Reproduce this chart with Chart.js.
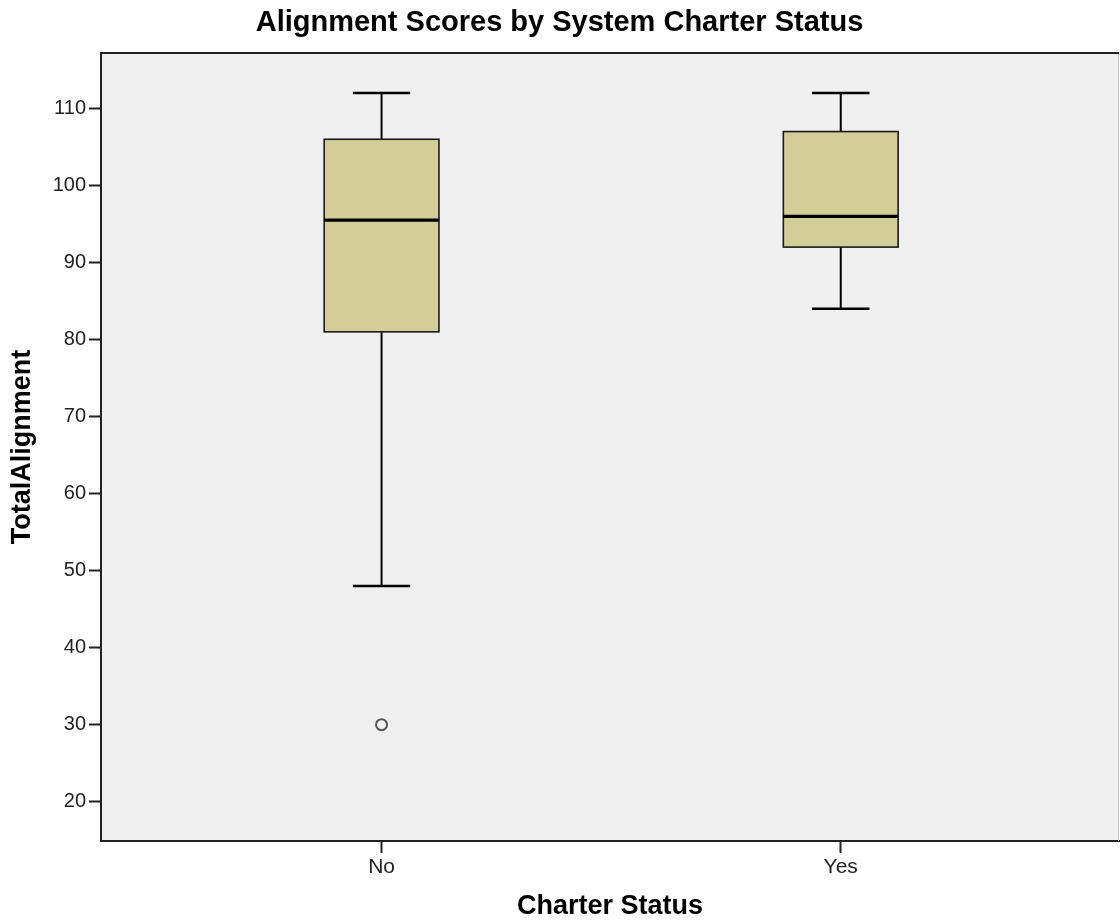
<!DOCTYPE html>
<html>
<head>
<meta charset="utf-8">
<title>Alignment Scores by System Charter Status</title>
<script src="https://cdn.jsdelivr.net/npm/chart.js@4.4.1/dist/chart.umd.min.js"></script>
<style>
  html, body { margin: 0; padding: 0; background: #ffffff; }
  #wrap { width: 1120px; height: 923px; }
</style>
</head>
<body>
<div id="wrap"><canvas id="chart" width="1120" height="923"></canvas></div>
<script>
// Box-plot summary per charter group
const categories   = ['No', 'Yes'];
const whiskerLow   = [48, 84];
const quartile1    = [81, 92];
const medians      = [95.5, 96];
const quartile3    = [106, 107];
const whiskerHigh  = [112, 112];
const outliers     = [[30], []];
const yTickValues  = [20, 30, 40, 50, 60, 70, 80, 90, 100, 110];

const FONT = "'Liberation Sans', Arial, Helvetica, sans-serif";
Chart.defaults.font.family = FONT;
Chart.defaults.color = '#222222';

const BOX_HALF = 0.125;   // half box width, in category units
const CAP_HALF = 0.0625;  // half whisker-cap width

// Plot background and the top / right frame of the plotting area
const frame = {
  id: 'frame',
  beforeDraw(chart) {
    const { ctx, chartArea: a } = chart;
    ctx.save();
    ctx.fillStyle = '#f0f0f0';
    ctx.fillRect(a.left, a.top, a.right - a.left, a.bottom - a.top);
    ctx.restore();
  },
  afterDraw(chart) {
    const { ctx, chartArea: a } = chart;
    ctx.save();
    ctx.strokeStyle = '#c8c8c8';
    ctx.lineWidth = 1;
    ctx.beginPath();
    ctx.moveTo(a.right - 0.5, a.top);
    ctx.lineTo(a.right - 0.5, a.bottom);
    ctx.stroke();
    ctx.strokeStyle = '#222222';
    ctx.lineWidth = 2;
    ctx.beginPath();
    ctx.moveTo(a.left - 1, a.top);
    ctx.lineTo(a.right, a.top);
    ctx.stroke();
    ctx.restore();
  }
};

// Boxes, medians and whiskers positioned through the chart scales
const boxes = {
  id: 'boxes',
  beforeDatasetsDraw(chart) {
    const { ctx, scales: { x, y } } = chart;
    ctx.save();
    categories.forEach((_, i) => {
      const xl = x.getPixelForValue(i - BOX_HALF);
      const xr = x.getPixelForValue(i + BOX_HALF);
      const xc = x.getPixelForValue(i);
      const cl = x.getPixelForValue(i - CAP_HALF);
      const cr = x.getPixelForValue(i + CAP_HALF);
      const yLo = y.getPixelForValue(whiskerLow[i]);
      const yQ1 = y.getPixelForValue(quartile1[i]);
      const yMd = y.getPixelForValue(medians[i]);
      const yQ3 = y.getPixelForValue(quartile3[i]);
      const yHi = y.getPixelForValue(whiskerHigh[i]);

      // whiskers
      ctx.strokeStyle = '#000000';
      ctx.lineWidth = 2;
      ctx.beginPath();
      ctx.moveTo(xc, yHi); ctx.lineTo(xc, yQ3);
      ctx.moveTo(xc, yQ1); ctx.lineTo(xc, yLo);
      ctx.stroke();
      ctx.lineWidth = 2.5;
      ctx.beginPath();
      ctx.moveTo(cl, yHi); ctx.lineTo(cr, yHi);
      ctx.moveTo(cl, yLo); ctx.lineTo(cr, yLo);
      ctx.stroke();

      // box
      ctx.fillStyle = '#d3ce98';
      ctx.fillRect(xl, yQ3, xr - xl, yQ1 - yQ3);
      ctx.strokeStyle = '#1a1a1a';
      ctx.lineWidth = 1.6;
      ctx.strokeRect(xl, yQ3, xr - xl, yQ1 - yQ3);

      // median
      ctx.strokeStyle = '#000000';
      ctx.lineWidth = 3.2;
      ctx.beginPath();
      ctx.moveTo(xl, yMd); ctx.lineTo(xr, yMd);
      ctx.stroke();
    });
    ctx.restore();
  }
};

const outlierPoints = outliers.flatMap((vals, i) => vals.map(v => ({ x: i, y: v })));

new Chart(document.getElementById('chart'), {
  type: 'scatter',
  data: {
    datasets: [{
      label: 'Outliers',
      data: outlierPoints,
      pointRadius: 5.5,
      pointHoverRadius: 5.5,
      pointBorderWidth: 2,
      pointBorderColor: '#555555',
      pointBackgroundColor: 'rgba(0,0,0,0)'
    }]
  },
  options: {
    responsive: false,
    animation: false,
    events: [],
    layout: { autoPadding: false, padding: { top: 0, right: 1, bottom: 0, left: 0 } },
    plugins: {
      legend: { display: false },
      tooltip: { enabled: false },
      title: {
        display: true,
        text: 'Alignment Scores by System Charter Status',
        color: '#000000',
        font: { size: 29, weight: 'bold', family: FONT, lineHeight: 1.2 },
        padding: { top: 6, bottom: 12.2 }
      }
    },
    scales: {
      x: {
        type: 'linear',
        min: -0.611,
        max: 1.606,
        afterBuildTicks(scale) {
          scale.ticks = categories.map((_, i) => ({ value: i }));
        },
        afterFit(scale) {
          scale.height = 82;
          scale.paddingLeft = 0;
          scale.paddingRight = 0;
        },
        ticks: {
          callback: (v) => categories[v],
          font: { size: 21, family: FONT },
          color: '#222222',
          padding: 2,
          maxRotation: 0
        },
        grid: {
          drawOnChartArea: false,
          drawTicks: true,
          tickLength: 12,
          tickWidth: 2,
          tickColor: '#222222'
        },
        border: { display: true, color: '#222222', width: 2 },
        title: {
          display: true,
          text: 'Charter Status',
          color: '#000000',
          font: { size: 27, weight: 'bold', family: FONT, lineHeight: 1.2 },
          padding: { top: 0, bottom: 0 }
        }
      },
      y: {
        type: 'linear',
        min: 14.9,
        max: 117.2,
        afterBuildTicks(scale) {
          scale.ticks = yTickValues.map(v => ({ value: v }));
        },
        afterFit(scale) {
          scale.width = 101;
          scale.paddingTop = 0;
          scale.paddingBottom = 0;
        },
        ticks: {
          font: { size: 20, family: FONT },
          color: '#222222',
          padding: 3
        },
        grid: {
          drawOnChartArea: false,
          drawTicks: true,
          tickLength: 12,
          tickWidth: 2,
          tickColor: '#222222'
        },
        border: { display: true, color: '#222222', width: 2 },
        title: {
          display: true,
          text: 'TotalAlignment',
          color: '#000000',
          font: { size: 27, weight: 'bold', family: FONT, lineHeight: 1.2 },
          padding: { top: 6, bottom: 0 }
        }
      }
    }
  },
  plugins: [frame, boxes]
});
</script>
</body>
</html>
